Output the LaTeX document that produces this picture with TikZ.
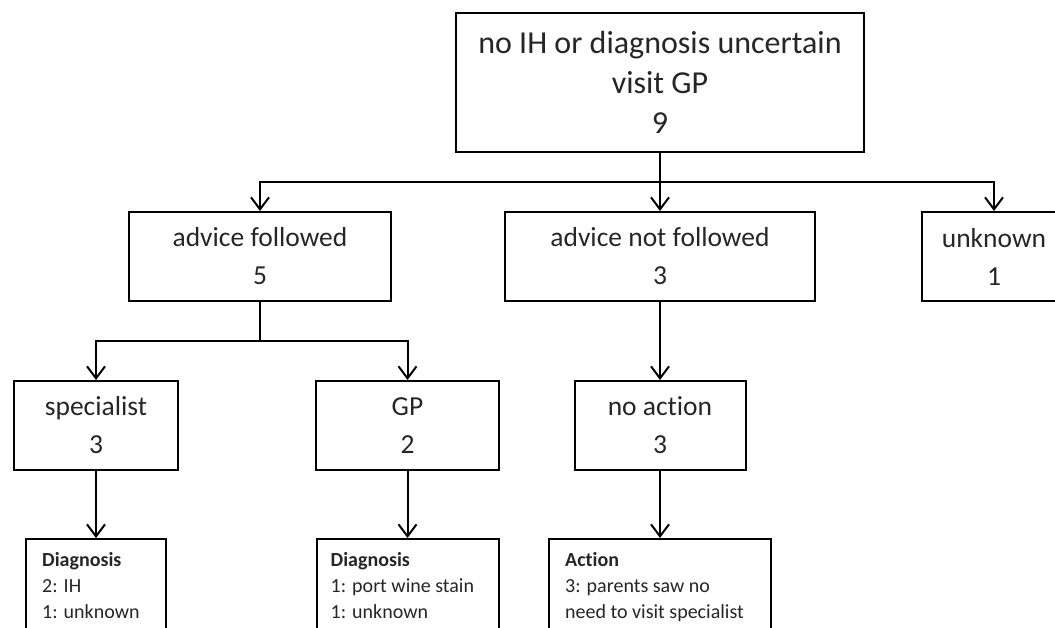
\documentclass[tikz,border=0pt]{standalone}
\usepackage{fontspec}
\setmainfont{Carlito}[Ligatures=NoCommon]
\usetikzlibrary{arrows.meta}
\begin{document}
\begin{tikzpicture}[x=1pt,y=-1pt,
  box/.style={draw=black,line width=2pt,fill=white,inner sep=0pt,align=center,text=black!85},
  big/.style={font=\fontsize{32}{40}\selectfont},
  mid/.style={font=\fontsize{27.5}{38}\selectfont},
  notebox/.style={draw=black,line width=2pt,fill=white,inner sep=0pt,minimum height=148pt},
  note/.style={align=left,anchor=north west,inner sep=0pt,font=\fontsize{20}{26}\selectfont,text=black!85},
  conn/.style={line width=2pt,-{Straight Barb[length=12pt,width=18pt]}},
  plain/.style={line width=2pt}]
\useasboundingbox (0,0) rectangle (1055,628);
\begin{scope}
\clip (0,0) rectangle (1055,628);
\fill[white] (0,0) rectangle (1055,628);
% level 1
\node[box,big,minimum width=408pt,minimum height=139pt] (top) at (660,82.5) {no IH or diagnosis uncertain\\visit GP\\9};
% level 2
\node[box,mid,minimum width=262pt,minimum height=89pt] (af) at (260,256.5) {advice followed\\5};
\node[box,mid,minimum width=310pt,minimum height=89pt] (anf) at (660,256.5) {advice not followed\\3};
\node[box,mid,minimum width=144pt,minimum height=89pt] (unk) at (994,256.5) {unknown\\1};
% level 3
\node[box,mid,minimum width=164pt,minimum height=89pt] (spec) at (96,425.5) {specialist\\3};
\node[box,mid,minimum width=183pt,minimum height=89pt] (gp) at (407.5,425.5) {GP\\2};
\node[box,mid,minimum width=171pt,minimum height=89pt] (noact) at (660,425.5) {no action\\3};
% level 4
\node[notebox,minimum width=140pt] (d1) at (96,613) {};
\node[notebox,minimum width=182pt] (d2) at (407.5,613) {};
\node[notebox,minimum width=222pt] (act) at (660,613) {};
\node[note] (t1) at ([xshift=17pt,yshift=-14pt]d1.north west) {\textbf{Diagnosis}\\2: IH\\1: unknown};
\node[note] (t2) at ([xshift=15pt,yshift=-14pt]d2.north west) {\textbf{Diagnosis}\\1: port wine stain\\1: unknown};
\node[note] (t3) at ([xshift=17pt,yshift=-14pt]act.north west) {\textbf{Action}\\3: parents saw no\\need to visit specialist};
% connectors
\coordinate (b1) at (660,182);
\draw[conn] (top.south) -- (anf.north);
\draw[conn] (b1) -| (af.north);
\draw[conn] (b1) -| (unk.north);
\coordinate (b2) at (260,341);
\draw[plain] (af.south) -- (b2);
\draw[conn] (b2) -| (spec.north);
\draw[conn] (b2) -| (gp.north);
\draw[conn] (anf.south) -- (noact.north);
\draw[conn] (spec.south) -- (d1.north);
\draw[conn] (gp.south) -- (d2.north);
\draw[conn] (noact.south) -- (act.north);
\end{scope}
\end{tikzpicture}
\end{document}
